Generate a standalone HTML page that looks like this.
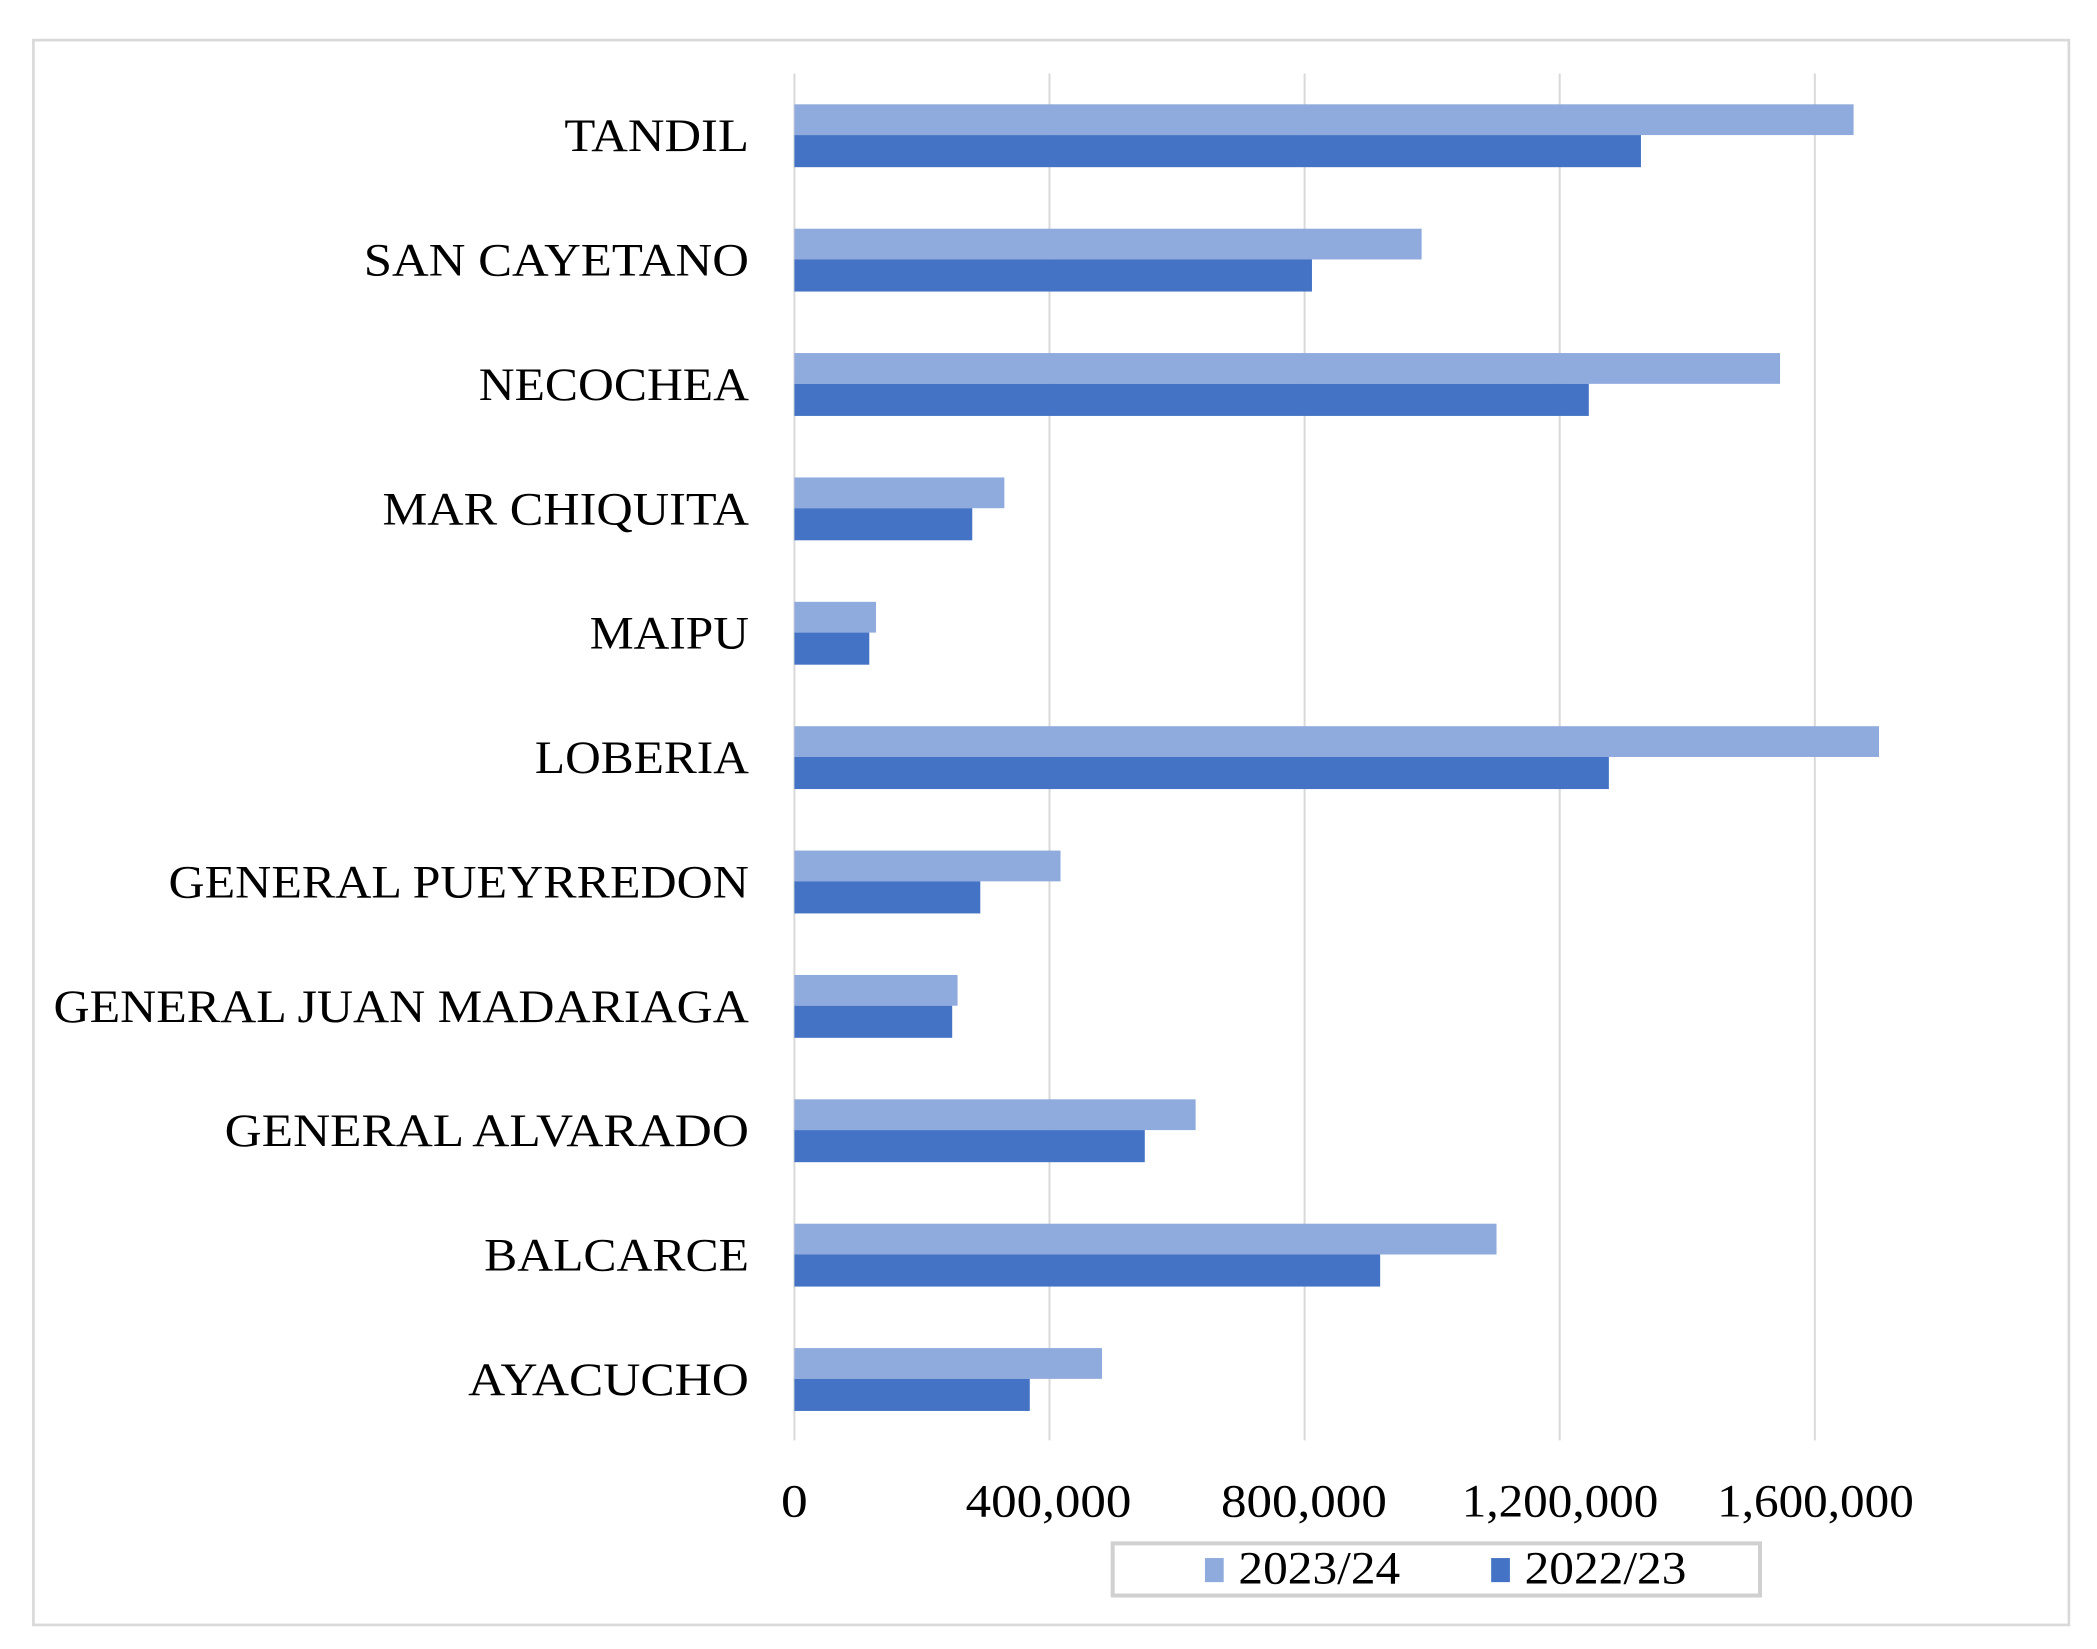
<!DOCTYPE html>
<html><head><meta charset="utf-8"><style>html,body{margin:0;padding:0;background:#fff}svg{display:block}</style></head>
<body>
<svg width="2097" height="1649" viewBox="0 0 1568 1233" preserveAspectRatio="none" xmlns="http://www.w3.org/2000/svg" font-family="'Liberation Serif', serif">
<rect x="0" y="0" width="1568" height="1233" fill="#fff"/>
<rect x="25" y="30" width="1522" height="1185" fill="#fff" stroke="#d9d9d9" stroke-width="2"/>
<g stroke="#d9d9d9" stroke-width="1.5">
<line x1="594" y1="55" x2="594" y2="1077"/>
<line x1="784.75" y1="55" x2="784.75" y2="1077"/>
<line x1="975.5" y1="55" x2="975.5" y2="1077"/>
<line x1="1166.25" y1="55" x2="1166.25" y2="1077"/>
<line x1="1357" y1="55" x2="1357" y2="1077"/>
</g>
<g>
<rect x="594" y="78" width="792" height="23" fill="#8faadc"/><rect x="594" y="101" width="633" height="24" fill="#4472c4"/>
<rect x="594" y="171" width="469" height="23" fill="#8faadc"/><rect x="594" y="194" width="387" height="24" fill="#4472c4"/>
<rect x="594" y="264" width="737" height="23" fill="#8faadc"/><rect x="594" y="287" width="594" height="24" fill="#4472c4"/>
<rect x="594" y="357" width="157" height="23" fill="#8faadc"/><rect x="594" y="380" width="133" height="24" fill="#4472c4"/>
<rect x="594" y="450" width="61" height="23" fill="#8faadc"/><rect x="594" y="473" width="56" height="24" fill="#4472c4"/>
<rect x="594" y="543" width="811" height="23" fill="#8faadc"/><rect x="594" y="566" width="609" height="24" fill="#4472c4"/>
<rect x="594" y="636" width="199" height="23" fill="#8faadc"/><rect x="594" y="659" width="139" height="24" fill="#4472c4"/>
<rect x="594" y="729" width="122" height="23" fill="#8faadc"/><rect x="594" y="752" width="118" height="24" fill="#4472c4"/>
<rect x="594" y="822" width="300" height="23" fill="#8faadc"/><rect x="594" y="845" width="262" height="24" fill="#4472c4"/>
<rect x="594" y="915" width="525" height="23" fill="#8faadc"/><rect x="594" y="938" width="438" height="24" fill="#4472c4"/>
<rect x="594" y="1008" width="230" height="23" fill="#8faadc"/><rect x="594" y="1031" width="176" height="24" fill="#4472c4"/>
</g>
<g font-size="35" fill="#000" lengthAdjust="spacingAndGlyphs">
<text x="422" y="113" textLength="138" lengthAdjust="spacingAndGlyphs">TANDIL</text>
<text x="272" y="206" textLength="288" lengthAdjust="spacingAndGlyphs">SAN CAYETANO</text>
<text x="358" y="299" textLength="202" lengthAdjust="spacingAndGlyphs">NECOCHEA</text>
<text x="286" y="392" textLength="274" lengthAdjust="spacingAndGlyphs">MAR CHIQUITA</text>
<text x="441" y="485" textLength="119" lengthAdjust="spacingAndGlyphs">MAIPU</text>
<text x="400" y="578" textLength="160" lengthAdjust="spacingAndGlyphs">LOBERIA</text>
<text x="126" y="671" textLength="434" lengthAdjust="spacingAndGlyphs">GENERAL PUEYRREDON</text>
<text x="40" y="764" textLength="520" lengthAdjust="spacingAndGlyphs">GENERAL JUAN MADARIAGA</text>
<text x="168" y="857" textLength="392" lengthAdjust="spacingAndGlyphs">GENERAL ALVARADO</text>
<text x="362" y="950" textLength="198" lengthAdjust="spacingAndGlyphs">BALCARCE</text>
<text x="350" y="1043" textLength="210" lengthAdjust="spacingAndGlyphs">AYACUCHO</text>
</g>
<g font-size="35" fill="#000">
<text x="584" y="1134" textLength="20" lengthAdjust="spacingAndGlyphs">0</text>
<text x="722" y="1134" textLength="124" lengthAdjust="spacingAndGlyphs">400,000</text>
<text x="913" y="1134" textLength="124" lengthAdjust="spacingAndGlyphs">800,000</text>
<text x="1093" y="1134" textLength="147" lengthAdjust="spacingAndGlyphs">1,200,000</text>
<text x="1284" y="1134" textLength="147" lengthAdjust="spacingAndGlyphs">1,600,000</text>
</g>
<rect x="832" y="1154" width="484" height="39" fill="#fff" stroke="#d0d0d0" stroke-width="3"/>
<rect x="901" y="1165" width="14" height="18" fill="#8faadc"/>
<text x="926" y="1184" font-size="35" textLength="121" lengthAdjust="spacingAndGlyphs">2023/24</text>
<rect x="1115" y="1165" width="14" height="18" fill="#4472c4"/>
<text x="1140" y="1184" font-size="35" textLength="121" lengthAdjust="spacingAndGlyphs">2022/23</text>
</svg>
</body></html>
